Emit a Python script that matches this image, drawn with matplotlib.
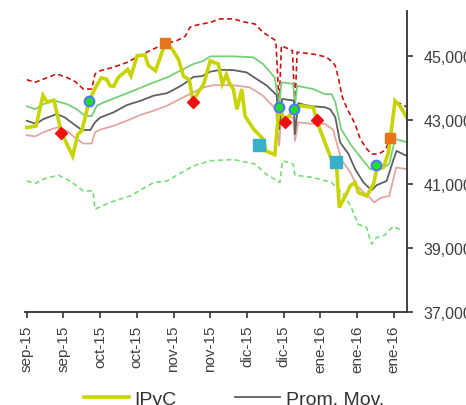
import matplotlib
matplotlib.use("Agg")
import matplotlib.pyplot as plt
from matplotlib.lines import Line2D

plt.rcParams["font.family"] = ["Liberation Sans", "DejaVu Sans"]

# eje x: dias habiles (indice), etiquetas cada 10 dias
tick_pos = [0, 10, 20, 30, 40, 50, 60, 70, 80, 90, 100]
tick_labels = ["sep-15", "sep-15", "oct-15", "oct-15", "nov-15", "nov-15",
               "dic-15", "dic-15", "ene-16", "ene-16", "ene-16"]
y_ticks = [37000, 39000, 41000, 43000, 45000]

# IPyC
ipyc_x = [0, 2.5, 4.4, 5.5, 7.4, 9.4, 12.5, 13.9, 15.0, 17.0, 18.5, 20.3, 21.8, 22.7,
          23.7, 25.0, 27.5, 28.4, 30.1, 32.2, 33.1, 35.1, 37.7, 39.6, 41.3, 42.7,
          44.3, 45.3, 46.8, 48.2, 50.0, 52.2, 53.3, 54.4, 55.2, 56.3, 57.3, 58.6,
          59.5, 61.8, 64.2, 65.3, 67.6, 68.8, 70.4, 71.5, 72.9, 74.5, 78.1, 79.0,
          80.9, 83.2, 84.5, 85.2, 87.3, 88.2, 89.5, 90.4, 92.7, 94.5, 95.4, 97.2,
          98.6, 100.4, 101.8, 103.6]
ipyc_y = [42770, 42810, 43770, 43570, 43620, 42620, 41880, 42560, 42670, 43600,
          43970, 44320, 44270, 44070, 44060, 44340, 44580, 44380, 45010, 45030,
          44710, 44540, 45390, 45220, 44910, 44380, 44250, 43610, 43880, 44120,
          44850, 44750, 44130, 44420, 44160, 43970, 43340, 43970, 43130, 42720,
          42440, 42030, 41920, 43420, 42950, 43130, 43340, 43450, 43400, 43000,
          42410, 41730, 41470, 40270, 40740, 40950, 41050, 40740, 40630, 41000,
          41470, 41520, 41990, 43600, 43430, 43080]

# Promedio movil
pm_x = [0, 2.5, 4.5, 8.2, 10.4, 12.7, 15.0, 17.3, 18.6, 20.0, 23.6, 27.3, 30.9,
        34.5, 38.2, 40.4, 42.3, 44.1, 45.4, 47.7, 50.0, 52.7, 56.3, 59.9, 62.7,
        65.4, 68.1, 68.8, 69.6, 72.8, 73.1, 74.0, 75.9, 78.1, 81.3, 82.7, 84.1,
        85.4, 87.7, 89.5, 91.8, 94.0, 95.4, 98.1, 100.0, 100.8, 103.6]
pm_y = [42980, 42880, 43030, 43190, 43080, 42880, 42690, 42690, 42930, 43080,
        43240, 43470, 43600, 43760, 43840, 43970, 44090, 44230, 44350, 44370,
        44510, 44570, 44560, 44490, 44280, 44080, 43780, 42720, 43660, 43610,
        42560, 43530, 43470, 43430, 43400, 43340, 43090, 42310, 41940, 41470,
        41050, 40810, 40970, 41100, 41780, 42040, 41880]

# banda superior (verde) e inferior (rosa)
bs_x = [0, 2.3, 4.5, 7.7, 10.9, 13.6, 15.9, 17.7, 19.1, 20.9, 24.5, 29.1, 33.6,
        38.2, 41.8, 45.4, 48.2, 50.0, 56.3, 61.7, 64.4, 67.6, 68.8, 69.4, 72.6,
        73.1, 73.7, 78.1, 81.3, 83.1, 84.1, 85.7, 88.2, 91.4, 93.6, 96.3, 98.8,
        100.4, 103.6]
bs_y = [43430, 43340, 43500, 43600, 43500, 43340, 43130, 43130, 43450, 43550,
        43710, 43920, 44130, 44330, 44540, 44750, 44850, 44990, 44990, 44960,
        44750, 44330, 43440, 44180, 44130, 43440, 44070, 43970, 43810, 43810,
        43560, 42720, 42250, 41780, 41470, 41470, 41630, 42410, 42310]

bi_x = [0, 2.3, 4.5, 8.2, 10.9, 13.6, 15.4, 17.7, 18.6, 20.0, 23.6, 27.3, 30.9,
        34.5, 38.2, 41.8, 45.4, 48.2, 50.9, 56.3, 60.8, 64.4, 67.9, 68.8, 69.4,
        72.6, 73.1, 74.0, 78.1, 81.3, 83.5, 85.7, 88.2, 89.9, 91.8, 93.1, 94.7,
        96.6, 98.8, 100.7, 103.6]
bi_y = [42530, 42490, 42620, 42770, 42670, 42410, 42270, 42270, 42620, 42700,
        42820, 42980, 43160, 43290, 43450, 43660, 43870, 44020, 44090, 44090,
        44020, 43760, 43340, 42200, 43130, 43080, 42350, 42930, 42880, 42880,
        42700, 41780, 41370, 40970, 40740, 40630, 40430, 40580, 40630, 41520,
        41470]

# limite superior (rojo) e inferior (verde) punteados
ls_x = [0, 2.3, 4.5, 8.2, 10.9, 13.2, 15.4, 17.7, 18.6, 20.0, 23.6, 27.3, 30.0,
        32.7, 35.5, 37.7, 40.9, 43.2, 44.5, 46.4, 50.0, 52.7, 56.3, 59.0, 62.2,
        64.4, 67.9, 68.8, 69.4, 72.4, 73.1, 73.7, 78.1, 81.6, 83.5, 84.1, 84.9,
        86.0, 87.4, 89.5, 90.9, 92.5, 93.9, 95.8, 97.7, 99.1, 100.4, 103.6]
ls_y = [44260, 44180, 44280, 44440, 44330, 44200, 43970, 43970, 44440, 44540,
        44650, 44800, 44960, 45120, 45270, 45380, 45480, 45620, 45900, 45970,
        46050, 46160, 46160, 46070, 46000, 45740, 45480, 43440, 45320, 45170,
        43440, 45120, 45060, 44970, 44800, 44690, 44340, 43720, 43340, 42880,
        42410, 42130, 41940, 41940, 42060, 42410, 43590, 43410]

li_x = [0, 2.3, 4.5, 8.6, 11.8, 15.4, 18.0, 18.6, 22.7, 28.2, 34.5, 38.2, 45.4,
        50.0, 56.3, 62.2, 65.3, 69.0, 69.7, 72.6, 73.1, 78.1, 83.1, 86.3, 88.5,
        90.3, 92.6, 94.0, 95.3, 97.6, 99.9, 102.6]
li_y = [41100, 41020, 41160, 41280, 41100, 40790, 40790, 40220, 40430, 40630,
        41050, 41100, 41570, 41730, 41770, 41630, 41310, 41050, 41730, 41630,
        41280, 41210, 41050, 40690, 40270, 39750, 39650, 39130, 39330, 39410,
        39680, 39540]

# senales
venta_x = [9.4, 45.3, 70.4, 79.0]
venta_y = [42610, 43580, 42950, 43000]
compra_x = [17.0, 68.8, 72.9, 95.2]
compra_y = [43600, 43420, 43340, 41610]
max_x = [37.7, 99.1]
max_y = [45410, 42430]
min_x = [63.2, 84.2]
min_y = [42220, 41690]

fig = plt.figure(figsize=(4.66, 4.06), dpi=100)
ax = fig.add_axes([0.0536, 0.2283, 0.8194, 0.7417])

ax.plot(li_x, li_y, color="#77dd77", lw=1.2, ls=(0, (3, 2)))
ax.plot(ls_x, ls_y, color="#cc1111", lw=1.2, ls=(0, (3, 2)))
ax.plot(bi_x, bi_y, color="#e3a6a0", lw=1.3)
ax.plot(bs_x, bs_y, color="#77d077", lw=1.3)
ax.plot(pm_x, pm_y, color="#606060", lw=1.3)
ax.plot(ipyc_x, ipyc_y, color="#c8d400", lw=2.6, solid_joinstyle="miter")

ax.plot(venta_x, venta_y, ls="none", marker="D", ms=6.5, color="#ee1111", mec="#ee1111")
ax.plot(compra_x, compra_y, ls="none", marker="o", ms=7, color="#22dd22",
        mec="#4a7bff", mew=1.5)
ax.plot(max_x, max_y, ls="none", marker="s", ms=7, color="#e8731a", mec="#e8731a")
ax.plot(min_x, min_y, ls="none", marker="s", ms=9, color="#3aafc8", mec="#3aafc8")

ax.set_xlim(-0.5, 103.6)
ax.set_ylim(37000, 46400)
ax.set_xticks(tick_pos)
ax.set_xticklabels(tick_labels, rotation=90, fontsize=11, color="#404040")
ax.set_yticks(y_ticks)
ax.set_yticklabels([f"{v:,}" for v in y_ticks], fontsize=11.5, color="#404040")
ax.yaxis.tick_right()
ax.tick_params(axis="both", direction="out", length=4, width=1.2, color="#333333")
ax.tick_params(axis="y", pad=8)
ax.tick_params(axis="x", pad=5)
for s in ["left", "top"]:
    ax.spines[s].set_visible(False)
for s in ["bottom", "right"]:
    ax.spines[s].set_color("#333333")
    ax.spines[s].set_linewidth(1.3)

handles = [Line2D([], [], color="#c8d400", lw=2.6),
           Line2D([], [], color="#606060", lw=1.3)]
fig.legend(handles, ["IPyC", "Prom. Mov."], loc="center", bbox_to_anchor=(0.502, 0.015),
           ncol=2, frameon=False, fontsize=14, handlelength=2.3, columnspacing=3.0,
           handletextpad=0.3, labelcolor="#333333")

fig.savefig("out.png", dpi=100)
